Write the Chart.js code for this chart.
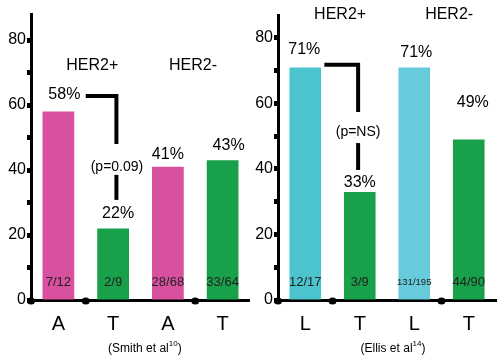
<!DOCTYPE html>
<html><head><meta charset="utf-8">
<script src="https://cdn.jsdelivr.net/npm/chart.js@4"></script>
<style>
html,body{margin:0;padding:0;background:#fff;}
#wrap{position:relative;width:500px;height:364px;overflow:hidden;}
canvas{position:absolute;top:0;}
</style>
</head><body>
<div id="wrap">
<canvas id="c1" width="250" height="364" style="left:0"></canvas>
<canvas id="c2" width="250" height="364" style="left:250px"></canvas>
</div>
<script>
// ---- data ----
const smithCategories = ['A', 'T', 'A', 'T'];
const smithValues = [58, 22, 41, 43];
const smithCounts = ['7/12', '2/9', '28/68', '33/64'];
const smithGroups = ['HER2+', 'HER2-'];
const smithPValue = '(p=0.09)';
const smithCitation = ['(Smith et al', '10', ')'];

const ellisCategories = ['L', 'T', 'L', 'T'];
const ellisValues = [71, 33, 71, 49];
const ellisCounts = ['12/17', '3/9', '131/195', '44/90'];
const ellisGroups = ['HER2+', 'HER2-'];
const ellisPValue = '(p=NS)';
const ellisCitation = ['(Ellis et al', '14', ')'];

const yTickLabels = [0, 20, 40, 60, 80];

const FONT = '"Liberation Sans", Arial, Helvetica, sans-serif';
const PINK = '#d8519e', GREEN = '#19a04a', CYAN1 = '#4cc4ce', CYAN2 = '#66ccdc';

function annotPlugin(cfg) {
  return {
    id: 'annot',
    afterDraw(chart) {
      const ctx = chart.ctx, x = chart.scales.x, y = chart.scales.y;
      const vals = chart.data.datasets[0].data;
      ctx.save();
      ctx.fillStyle = '#000';
      ctx.textAlign = 'center';
      ctx.textBaseline = 'middle';
      // percent labels
      ctx.font = '16px ' + FONT;
      vals.forEach((v, i) => {
        const o = cfg.pctOffsets[i];
        ctx.fillText(v + '%', x.getPixelForValue(i) + o[0], y.getPixelForValue(v) + o[1]);
      });
      // counts inside bars
      cfg.counts.forEach((c, i) => {
        ctx.font = (c.length > 5 ? '9.5px ' : '13px ') + FONT;
        ctx.fillStyle = '#222';
        ctx.fillText(c, x.getPixelForValue(i), y.getPixelForValue(5.5));
      });
      ctx.fillStyle = '#000';
      // group headings
      ctx.font = '16px ' + FONT;
      cfg.groups.forEach((g, i) => {
        const p = cfg.groupPos[i];
        ctx.fillText(g, x.getPixelForValue(p[0]), y.getPixelForValue(p[1]));
      });
      // bracket
      ctx.strokeStyle = '#000';
      ctx.lineWidth = 4;
      ctx.lineCap = 'butt';
      ctx.lineJoin = 'miter';
      cfg.bracket.forEach(seg => {
        ctx.beginPath();
        seg.forEach((pt, k) => {
          const px = x.getPixelForValue(pt[0]), py = y.getPixelForValue(pt[1]);
          if (k === 0) ctx.moveTo(px, py); else ctx.lineTo(px, py);
        });
        ctx.stroke();
      });
      ctx.font = '14px ' + FONT;
      ctx.fillText(cfg.pText, x.getPixelForValue(cfg.pPos[0]), y.getPixelForValue(cfg.pPos[1]));
      // axis dots
      const by = y.getPixelForValue(0) + 1;
      [x.left, x.getPixelForValue(0.5), x.getPixelForValue(2.5)].forEach(px => {
        ctx.beginPath();
        ctx.ellipse(px, by, 4, 3.5, 0, 0, Math.PI * 2);
        ctx.fill();
      });
      // citation
      const c = cfg.citation;
      ctx.font = '12px ' + FONT;
      const w0 = ctx.measureText(c[0]).width;
      ctx.font = '8px ' + FONT;
      const w1 = ctx.measureText(c[1]).width;
      ctx.font = '12px ' + FONT;
      const w2 = ctx.measureText(c[2]).width;
      let cx = x.getPixelForValue(cfg.citeX) - (w0 + w1 + w2) / 2;
      const cy = 349;
      ctx.textAlign = 'left';
      ctx.fillText(c[0], cx, cy); cx += w0;
      ctx.font = '8px ' + FONT;
      ctx.fillText(c[1], cx, cy - 5); cx += w1;
      ctx.font = '12px ' + FONT;
      ctx.fillText(c[2], cx, cy);
      ctx.restore();
    }
  };
}

function makeChart(id, cats, values, colors, yWidth, padRight, yMax, padTop, cfg) {
  return new Chart(document.getElementById(id), {
    type: 'bar',
    data: {
      labels: cats,
      datasets: [{ data: values, backgroundColor: colors, borderWidth: 0,
                   barPercentage: 0.58, categoryPercentage: 1 }]
    },
    options: {
      responsive: false,
      animation: false,
      devicePixelRatio: 1,
      layout: { padding: { left: 0, right: padRight, top: padTop, bottom: 0 } },
      plugins: { legend: { display: false }, tooltip: { enabled: false } },
      scales: {
        x: {
          grid: { display: false, drawTicks: false },
          border: { display: true, color: '#000', width: 3 },
          ticks: { color: '#000', font: { family: FONT, size: 20 }, padding: 12 },
          afterFit: s => { s.height = 64; }
        },
        y: {
          min: 0, max: yMax,
          grid: { drawOnChartArea: false, drawTicks: true, tickLength: 4, tickWidth: 5, tickColor: '#000' },
          border: { display: true, color: '#000', width: 3 },
          ticks: { stepSize: 10, includeBounds: false, color: '#000', padding: 1,
                   font: { family: FONT, size: 16 },
                   callback: v => yTickLabels.includes(v) ? String(v) : '' },
          afterFit: s => { s.width = yWidth; }
        }
      }
    },
    plugins: [annotPlugin(cfg)]
  });
}

makeChart('c1', smithCategories, smithValues, [PINK, GREEN, PINK, GREEN], 31, 0, 88, 14, {
  counts: smithCounts,
  groups: smithGroups,
  groupPos: [[0.62, 72], [2.46, 72]],
  pctOffsets: [[6, -16.5], [5, -14.5], [0, -12], [6, -15]],
  bracket: [[[0.5, 62.8], [1.06, 62.8], [1.06, 48]], [[1.06, 38.5], [1.06, 30.8]]],
  pText: smithPValue, pPos: [1.07, 41],
  citation: smithCitation, citeX: 1.58
});

makeChart('c2', ellisCategories, ellisValues, [CYAN1, GREEN, CYAN2, GREEN], 28, 4, 87, 15, {
  counts: ellisCounts,
  groups: ellisGroups,
  groupPos: [[0.64, 87], [2.64, 87]],
  pctOffsets: [[-1, -17.5], [0, -9], [2, -15], [4, -36.5]],
  bracket: [[[0.35, 71.8], [0.97, 71.8], [0.97, 57.4]], [[0.97, 47.9], [0.97, 39.7]]],
  pText: ellisPValue, pPos: [0.97, 51.3],
  citation: ellisCitation, citeX: 1.61
});
</script>
</body></html>
